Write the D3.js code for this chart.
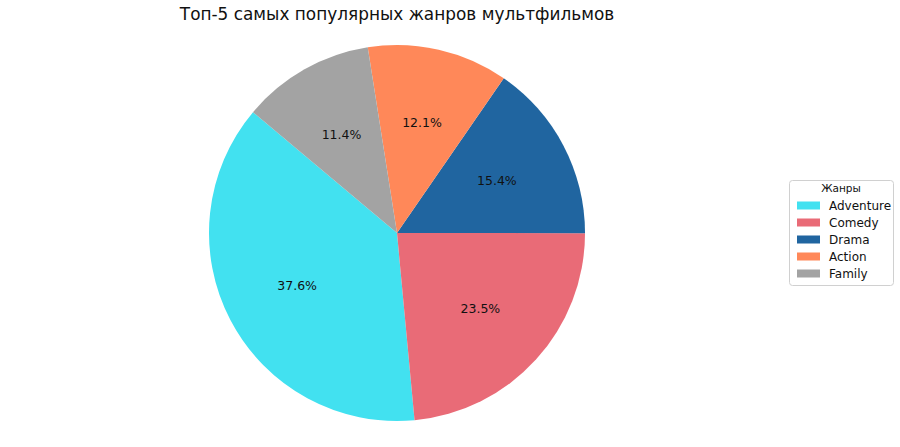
<!DOCTYPE html>
<html>
<head>
<meta charset="utf-8">
<script src="https://cdn.jsdelivr.net/npm/d3@7"></script>
<style>
  body { margin: 0; background: #fff; }
  text { font-family: "DejaVu Sans", sans-serif; }
</style>
</head>
<body>
<svg id="chart"></svg>
<script>
const genres = ["Adventure", "Comedy", "Drama", "Action", "Family"];
const shares = [37.6, 23.5, 15.4, 12.1, 11.4];
const colors = ["#42e1f0", "#e96b77", "#2065a0", "#ff8859", "#a3a3a3"];
const title = "Топ-5 самых популярных жанров мультфильмов";
const legendTitle = "Жанры";

const width = 900;
const height = 447;
const cx = 397, cy = 233, radius = 188;

const svg = d3.select("#chart")
  .attr("width", width)
  .attr("height", height);

// matplotlib: startangle 140, counterclockwise. d3 angles are clockwise from 12 o'clock.
const startDeg = 140;
const toD3 = deg => (90 - deg) * Math.PI / 180;
const pie = d3.pie()
  .sort(null)
  .value(d => d)
  .startAngle(toD3(startDeg))
  .endAngle(toD3(startDeg) - 2 * Math.PI);

const arcs = pie(shares);
const arc = d3.arc().innerRadius(0).outerRadius(radius);
const labelArc = d3.arc().innerRadius(radius * 0.6).outerRadius(radius * 0.6);

const g = svg.append("g").attr("transform", `translate(${cx},${cy})`);

g.selectAll("path")
  .data(arcs)
  .enter()
  .append("path")
  .attr("d", arc)
  .attr("fill", (d, i) => colors[i]);

g.selectAll("text.pct")
  .data(arcs)
  .enter()
  .append("text")
  .attr("class", "pct")
  .attr("transform", d => `translate(${labelArc.centroid(d)})`)
  .attr("text-anchor", "middle")
  .attr("dy", "0.35em")
  .attr("font-size", 12.5)
  .attr("fill", "#111")
  .text(d => d.data.toFixed(1) + "%");

// Title
svg.append("text")
  .attr("x", cx)
  .attr("y", 20)
  .attr("text-anchor", "middle")
  .attr("font-size", 16.9)
  .attr("fill", "#111")
  .text(title);

// Legend
const lg = svg.append("g").attr("transform", "translate(789,180)");
lg.append("rect")
  .attr("x", 0.5).attr("y", 0.5)
  .attr("width", 104).attr("height", 105)
  .attr("rx", 3)
  .attr("fill", "#fff")
  .attr("stroke", "#d0d0d0");

lg.append("text")
  .attr("x", 52)
  .attr("y", 12)
  .attr("text-anchor", "middle")
  .attr("font-size", 10.5)
  .attr("fill", "#111")
  .text(legendTitle);

const ly = d3.scaleBand()
  .domain(genres)
  .range([17, 102]);

const item = lg.selectAll("g.item")
  .data(genres)
  .enter()
  .append("g")
  .attr("class", "item")
  .attr("transform", d => `translate(0,${ly(d) + ly.bandwidth() / 2})`);

item.append("rect")
  .attr("x", 8).attr("y", -4)
  .attr("width", 23).attr("height", 8)
  .attr("fill", (d, i) => colors[i]);

item.append("text")
  .attr("x", 40)
  .attr("dy", "0.35em")
  .attr("font-size", 12)
  .attr("fill", "#111")
  .text(d => d);
</script>
</body>
</html>
